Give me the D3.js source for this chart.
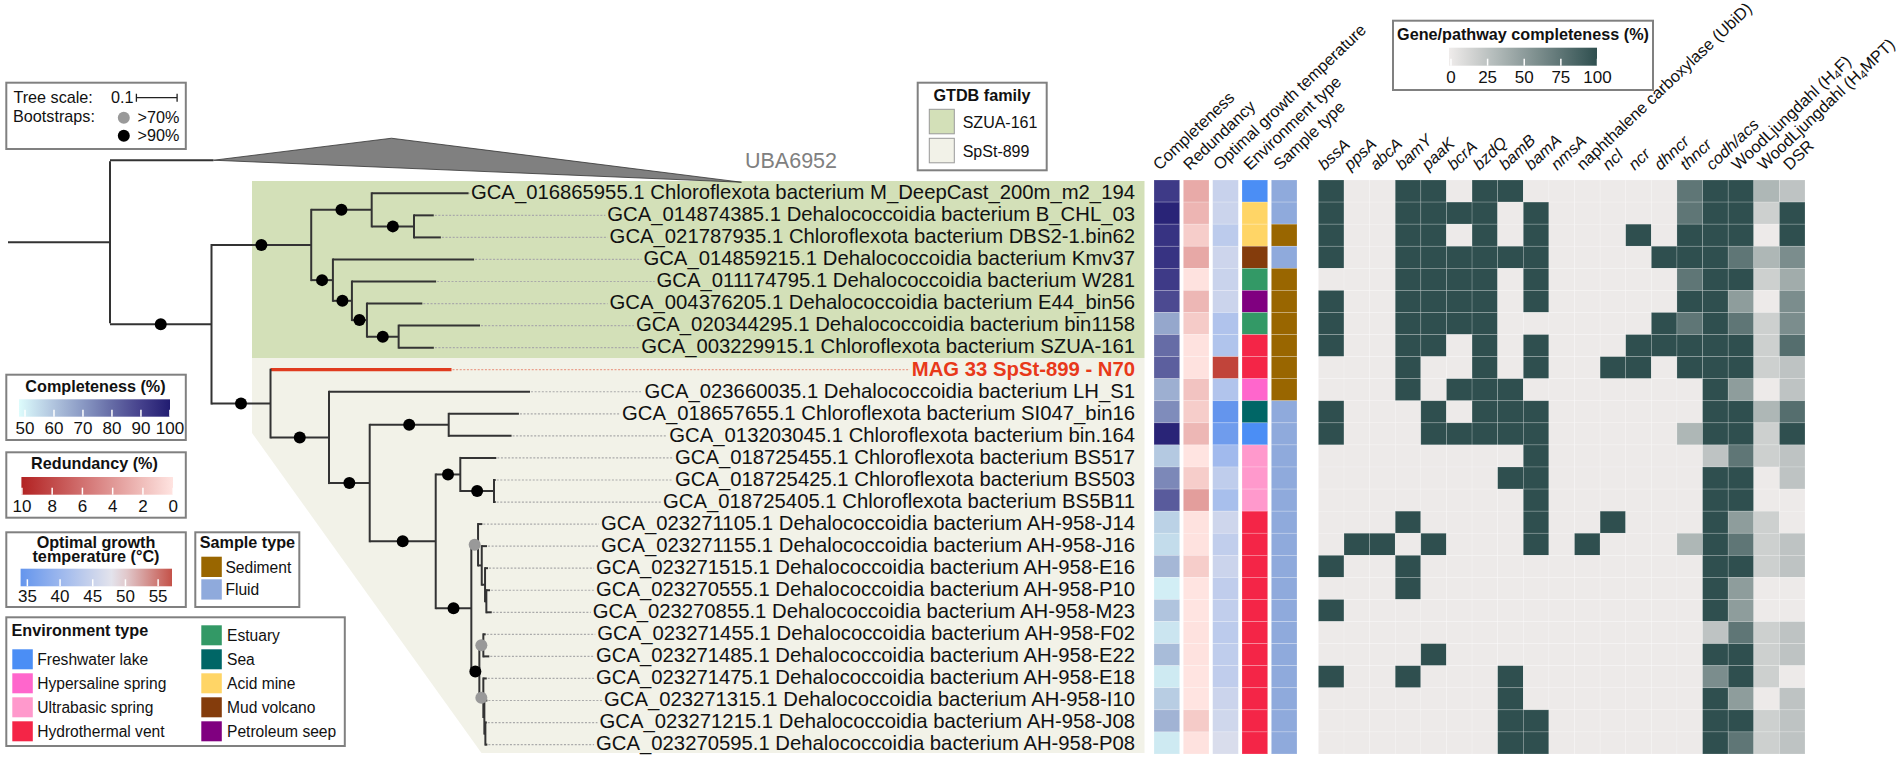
<!DOCTYPE html>
<html>
<head>
<meta charset="utf-8">
<script src="https://cdn.jsdelivr.net/npm/d3@7"></script>
<style>
    html, body { margin: 0; padding: 0; background: #fff; overflow: hidden; }
    svg { display: block; }
    text { font-family: "Liberation Sans", Arial, sans-serif; fill: #111; }
</style>
</head>
<body>
<div id="chart"></div>
<script>
// tips, top to bottom
const tipLabels = [
    "GCA_016865955.1 Chloroflexota bacterium M_DeepCast_200m_m2_194",
    "GCA_014874385.1 Dehalococcoidia bacterium B_CHL_03",
    "GCA_021787935.1 Chloroflexota bacterium DBS2-1.bin62",
    "GCA_014859215.1 Dehalococcoidia bacterium Kmv37",
    "GCA_011174795.1 Dehalococcoidia bacterium W281",
    "GCA_004376205.1 Dehalococcoidia bacterium E44_bin56",
    "GCA_020344295.1 Dehalococcoidia bacterium bin1158",
    "GCA_003229915.1 Chloroflexota bacterium SZUA-161",
    "MAG 33 SpSt-899 - N70",
    "GCA_023660035.1 Dehalococcoidia bacterium LH_S1",
    "GCA_018657655.1 Chloroflexota bacterium SI047_bin16",
    "GCA_013203045.1 Chloroflexota bacterium bin.164",
    "GCA_018725455.1 Chloroflexota bacterium BS517",
    "GCA_018725425.1 Chloroflexota bacterium BS503",
    "GCA_018725405.1 Chloroflexota bacterium BS5B11",
    "GCA_023271105.1 Dehalococcoidia bacterium AH-958-J14",
    "GCA_023271155.1 Dehalococcoidia bacterium AH-958-J16",
    "GCA_023271515.1 Dehalococcoidia bacterium AH-958-E16",
    "GCA_023270555.1 Dehalococcoidia bacterium AH-958-P10",
    "GCA_023270855.1 Dehalococcoidia bacterium AH-958-M23",
    "GCA_023271455.1 Dehalococcoidia bacterium AH-958-F02",
    "GCA_023271485.1 Dehalococcoidia bacterium AH-958-E22",
    "GCA_023271475.1 Dehalococcoidia bacterium AH-958-E18",
    "GCA_023271315.1 Dehalococcoidia bacterium AH-958-I10",
    "GCA_023271215.1 Dehalococcoidia bacterium AH-958-J08",
    "GCA_023270595.1 Dehalococcoidia bacterium AH-958-P08"
];
const tipIds = tipLabels.map((d, i) => "t" + (i + 1));

// [id, parent, branch length, bootstrap]
const treeEdges = [
    ["root", null, 0.2506, 0], ["N2", "root", 0.2494, 90], ["UBA6952", "root", 0.2543, 0],
    ["G", "N2", 0.245, 90], ["B", "N2", 0.145, 90],
    ["G1", "G", 0.1486, 90], ["t1", "G1", 0.2381, 0], ["G1a", "G1", 0.1039, 90],
    ["t2", "G1a", 0.0486, 0], ["t3", "G1a", 0.0661, 0],
    ["G2", "G", 0.0533, 90], ["t4", "G2", 0.3469, 0], ["G3", "G2", 0.0467, 90],
    ["t5", "G3", 0.2069, 0], ["G4", "G3", 0.0369, 90], ["t6", "G4", 0.1361, 0],
    ["G5", "G4", 0.0779, 90], ["t7", "G5", 0.2, 0], ["t8", "G5", 0.0865, 0],
    ["t9", "B", 0.4447, 0], ["B1", "B", 0.1437, 90], ["t10", "B1", 0.4939, 0],
    ["B2", "B1", 0.1, 90], ["B3", "B2", 0.1941, 90], ["t11", "B3", 0.1725, 0], ["t12", "B3", 0.1545, 0],
    ["B4", "B2", 0.1622, 90], ["B5", "B4", 0.0604, 90], ["t13", "B5", 0.0885, 0],
    ["B6", "B5", 0.0828, 90], ["t14", "B6", 0.0042, 0], ["t15", "B6", 0.0042, 0],
    ["B7", "B4", 0.0875, 90], ["B8", "B7", 0.0165, 70], ["t16", "B8", 0.0106, 0],
    ["B8a", "B8", 0.0091, 0], ["t17", "B8a", 0.013, 0], ["B8b", "B8a", 0.0081, 0],
    ["t18", "B8b", 0.0074, 0], ["B8c", "B8b", 0.0032, 0], ["t19", "B8c", 0.0091, 0], ["t20", "B8c", 0.0133, 0],
    ["B9", "B7", 0.0197, 90], ["B10", "B9", 0.0098, 70], ["t21", "B10", 0.0059, 0], ["t22", "B10", 0.0147, 0],
    ["B11", "B9", 0.0098, 70], ["t23", "B11", 0.0084, 0], ["B12", "B11", 0.0025, 0],
    ["t24", "B12", 0.0074, 0], ["B13", "B12", 0.0025, 0], ["t25", "B13", 0.0034, 0], ["t26", "B13", 0.0049, 0]
];
// collapsed clade: how deep its apex and far corner reach
const collapsedApexLen = 0.4373;
const collapsedTipLen = 1.2973;

const completeness = [92, 98, 94, 94, 92, 88, 67, 80, 83, 65, 73, 98, 59, 74, 84, 57, 55, 63, 51, 60, 53, 62, 52, 58, 64, 52];
const redundancy = [3, 2.4, 1.2, 3.1, 0.1, 2.3, 1.3, 0.1, 0.1, 1.7, 1.2, 2.3, 0, 1.2, 3.6, 0.1, 0.1, 1.2, 0, 0, 0.1, 0.1, 0, 0, 1.3, 0.1];
const growthTemp = [45, 45.3, 43.7, 45.5, 45.1, 45.3, 42.3, 42.4, 58, 42.5, 34, 35.2, 40.7, 44, 41.5, 45.6, 44.2, 45.3, 44.1, 44.2, 43.7, 44, 44.1, 45.3, 45.8, 46.8];
const environment = ["Freshwater lake", "Acid mine", "Acid mine", "Mud volcano", "Estuary", "Petroleum seep", "Estuary", "Hydrothermal vent",
    "Hydrothermal vent", "Hypersaline spring", "Sea", "Freshwater lake", "Ultrabasic spring", "Ultrabasic spring", "Ultrabasic spring",
    "Hydrothermal vent", "Hydrothermal vent", "Hydrothermal vent", "Hydrothermal vent", "Hydrothermal vent", "Hydrothermal vent",
    "Hydrothermal vent", "Hydrothermal vent", "Hydrothermal vent", "Hydrothermal vent", "Hydrothermal vent"];
const sampleType = ["Fluid", "Fluid", "Sediment", "Fluid", "Sediment", "Sediment", "Sediment", "Sediment", "Sediment", "Sediment",
    "Fluid", "Fluid", "Fluid", "Fluid", "Fluid", "Fluid", "Fluid", "Fluid", "Fluid", "Fluid", "Fluid", "Fluid", "Fluid", "Fluid", "Fluid", "Fluid"];

const metaColumns = ["Completeness", "Redundancy", "Optimal growth temperature", "Environment type", "Sample type"];
const geneColumns = ["bssA", "ppsA", "abcA", "bamY", "paaK", "bcrA", "bzdQ", "bamB", "bamA", "nmsA",
    "naphthalene carboxylase (UbiD)", "ncl", "ncr", "dhncr", "thncr", "codh/acs",
    "WoodLjungdahl (H4F)", "WoodLjungdahl (H4MPT)", "DSR"];
const uprightGenes = ["naphthalene carboxylase (UbiD)", "WoodLjungdahl (H4F)", "WoodLjungdahl (H4MPT)", "DSR"];

const geneMatrix = [
    [100, 0, 0, 100, 100, 0, 100, 100, 0, 0, 0, 0, 0, 0, 75, 100, 100, 33, 25],
    [100, 0, 0, 100, 100, 100, 100, 0, 100, 0, 0, 0, 0, 0, 75, 100, 100, 17, 100],
    [100, 0, 0, 100, 100, 0, 100, 0, 100, 0, 0, 0, 100, 0, 100, 100, 100, 0, 100],
    [100, 0, 0, 100, 100, 100, 100, 100, 100, 0, 0, 0, 0, 100, 100, 100, 75, 33, 60],
    [0, 0, 0, 100, 100, 100, 100, 0, 100, 0, 0, 0, 0, 0, 75, 100, 100, 17, 40],
    [100, 0, 0, 100, 100, 100, 100, 0, 100, 0, 0, 0, 0, 0, 100, 100, 50, 0, 60],
    [100, 0, 0, 100, 100, 100, 100, 0, 0, 0, 0, 0, 0, 100, 75, 100, 75, 17, 60],
    [100, 0, 0, 100, 100, 0, 100, 0, 100, 0, 0, 0, 100, 100, 100, 100, 100, 17, 80],
    [0, 0, 0, 100, 0, 0, 100, 0, 100, 0, 0, 100, 100, 0, 100, 100, 100, 17, 25],
    [0, 0, 0, 100, 0, 100, 100, 100, 0, 0, 0, 0, 0, 0, 0, 100, 50, 0, 25],
    [100, 0, 0, 0, 100, 0, 100, 100, 100, 0, 0, 0, 0, 0, 0, 100, 100, 33, 80],
    [100, 0, 0, 0, 100, 100, 100, 100, 100, 0, 0, 0, 0, 0, 33, 100, 100, 17, 100],
    [0, 0, 0, 0, 0, 0, 0, 0, 100, 0, 0, 0, 0, 0, 0, 25, 75, 17, 25],
    [0, 0, 0, 0, 0, 0, 0, 100, 100, 0, 0, 0, 0, 0, 0, 100, 100, 0, 25],
    [0, 0, 0, 0, 0, 0, 0, 0, 100, 0, 0, 0, 0, 0, 0, 100, 100, 0, 0],
    [0, 0, 0, 100, 0, 0, 0, 0, 100, 0, 0, 100, 0, 0, 0, 100, 50, 17, 0],
    [0, 100, 100, 0, 100, 0, 0, 0, 100, 0, 100, 0, 0, 0, 33, 100, 75, 17, 25],
    [100, 0, 0, 100, 0, 0, 0, 0, 0, 0, 0, 0, 0, 0, 0, 100, 100, 17, 25],
    [0, 0, 0, 100, 0, 0, 0, 0, 0, 0, 0, 0, 0, 0, 0, 100, 50, 0, 0],
    [100, 0, 0, 0, 0, 0, 0, 0, 0, 0, 0, 0, 0, 0, 0, 100, 50, 0, 0],
    [0, 0, 0, 0, 0, 0, 0, 0, 0, 0, 0, 0, 0, 0, 0, 25, 75, 17, 25],
    [0, 0, 0, 0, 100, 0, 0, 0, 0, 0, 0, 0, 0, 0, 0, 100, 100, 17, 25],
    [100, 0, 0, 100, 0, 0, 0, 100, 0, 0, 0, 0, 0, 0, 0, 60, 100, 17, 0],
    [0, 0, 0, 0, 0, 0, 0, 100, 0, 0, 0, 0, 0, 0, 0, 100, 50, 0, 25],
    [0, 0, 0, 0, 0, 0, 0, 100, 100, 0, 0, 0, 0, 0, 0, 100, 100, 17, 25],
    [0, 0, 0, 0, 0, 0, 0, 100, 100, 0, 0, 0, 0, 0, 0, 100, 75, 17, 25]
];

const environmentTypes = ["Freshwater lake", "Hypersaline spring", "Ultrabasic spring", "Hydrothermal vent", "Estuary", "Sea", "Acid mine", "Mud volcano", "Petroleum seep"];
const environmentColors = ["#4b8ef5", "#ff66cc", "#ff99cc", "#f42547", "#339966", "#006666", "#ffd566", "#843c0c", "#800080"];
const sampleTypes = ["Sediment", "Fluid"];
const sampleColors = ["#996600", "#8faadc"];
const familyNames = ["SZUA-161", "SpSt-899"];
const familyColors = ["#d3e0b8", "#f2f2e8"];

const width = 1902, height = 760;
const svg = d3.select("#chart").append("svg").attr("width", width).attr("height", height);

// ---- scales
const treeX = d3.scaleLinear().domain([0, 1]).range([8, 415]);
const leafY = d3.scaleLinear().domain([0, 25]).range([193.3, 744.6]);
const rowY = d3.scaleBand().domain(tipIds).range([180, 754]);
const metaX = d3.scaleBand().domain(metaColumns).range([1154, 1297]).paddingInner(0.125).paddingOuter(0);
const geneX = d3.scaleBand().domain(geneColumns).range([1318.4, 1805]);

const completenessColor = d3.scaleLinear().domain([50, 60, 70, 80, 90, 100])
    .range(["#d6f3f7", "#b0c4de", "#8a9ac4", "#666ca6", "#45418c", "#221d72"]);
const redundancyColor = d3.scaleLinear().domain([0, 10]).range(["#ffe4e1", "#b22222"]);
const tempColor = d3.scaleLinear().domain([34, 48.5, 58]).range(["#6495ed", "#e8e6ec", "#c1443a"]);
const environmentColor = d3.scaleOrdinal().domain(environmentTypes).range(environmentColors);
const sampleColor = d3.scaleOrdinal().domain(sampleTypes).range(sampleColors);
const geneColor = d3.scaleLinear().domain([0, 100]).range(["#edeae9", "#2f4f4f"]);

// ---- family backgrounds
const bg = svg.append("g");
bg.append("rect").attr("x", 252).attr("y", 181).attr("width", 892.5).attr("height", 177).attr("fill", familyColors[0]);
bg.append("path").attr("d", "M252,358H1144.5V753H481.5L252,433Z").attr("fill", familyColors[1]);

// ---- tree
const root = d3.stratify().id(d => d[0]).parentId(d => d[1])(treeEdges);
root.eachBefore(n => {
    n.len = n.data[2];
    n.support = n.data[3];
    n.depthLen = (n.parent ? n.parent.depthLen : 0) + n.len;
    n.px = treeX(n.depthLen);
    n.px0 = n.parent ? n.parent.px : treeX(0);
});
root.eachAfter(n => {
    if (n.id === "UBA6952") n.py = leafY(-1.5);
    else if (!n.children) n.py = leafY(tipIds.indexOf(n.id));
    else n.py = (n.children[0].py + n.children[n.children.length - 1].py) / 2;
});

const treeG = svg.append("g");
const collapsed = root.children.find(n => n.id === "UBA6952");
treeG.append("path")
    .attr("d", d3.line()([
        [collapsed.px, collapsed.py],
        [treeX(collapsed.depthLen + collapsedApexLen), collapsed.py - 22],
        [treeX(collapsed.depthLen + collapsedTipLen), collapsed.py + 22]
    ]) + "Z")
    .attr("fill", "#808080").attr("stroke", "#333").attr("stroke-width", 0.8);

const isMag = n => n.id === "t9";
const nodes = root.descendants();

treeG.selectAll(".stem").data(nodes).join("line")
    .attr("class", "stem")
    .attr("x1", d => d.px0).attr("x2", d => d.px)
    .attr("y1", d => d.py).attr("y2", d => d.py)
    .attr("stroke", d => isMag(d) ? "#e03c1f" : "#333")
    .attr("stroke-width", d => isMag(d) ? 3.2 : 2);

treeG.selectAll(".fork").data(nodes.filter(d => d.children)).join("line")
    .attr("class", "fork")
    .attr("x1", d => d.px).attr("x2", d => d.px)
    .attr("y1", d => d.children[0].py - 1).attr("y2", d => d.children[d.children.length - 1].py + 1)
    .attr("stroke", "#333").attr("stroke-width", 2);

// tip labels, all right aligned, with dotted leaders back to the tips
const labelRight = 1135;
const tips = root.leaves().filter(d => d.id !== "UBA6952");
const tipG = treeG.selectAll(".tip").data(tips).join("g").attr("class", "tip");
tipG.append("text")
    .attr("x", labelRight)
    .attr("y", d => d.py + 5.8)
    .attr("text-anchor", "end")
    .attr("font-size", 20.3)
    .attr("font-weight", d => isMag(d) ? "bold" : null)
    .style("fill", d => isMag(d) ? "#e8391a" : "#111")
    .text(d => tipLabels[tipIds.indexOf(d.id)]);
tipG.insert("line", "text")
    .attr("x1", d => d.px + 1)
    .attr("x2", function () { return labelRight - this.parentNode.querySelector("text").getComputedTextLength() - 2; })
    .attr("y1", d => d.py).attr("y2", d => d.py)
    .attr("stroke", d => isMag(d) ? "#eaa08c" : "#aaa")
    .attr("stroke-width", 1.2)
    .attr("stroke-dasharray", "2,1.6");

treeG.selectAll(".boot").data(nodes.filter(d => d.support > 0)).join("circle")
    .attr("class", "boot")
    .attr("cx", d => (d.px0 + d.px) / 2)
    .attr("cy", d => d.py)
    .attr("r", 6)
    .attr("fill", d => d.support >= 90 ? "#000" : "#999");

svg.append("text").attr("x", 745).attr("y", 168).attr("font-size", 21.5).style("fill", "#808080").text("UBA6952");

// ---- metadata strips
const metaValues = [completeness, redundancy, growthTemp, environment, sampleType];
const metaColors = [completenessColor, redundancyColor, tempColor, environmentColor, sampleColor];
const metaCells = [];
metaColumns.forEach((col, c) => tipIds.forEach((id, r) => {
    metaCells.push({ col, id, fill: metaColors[c](metaValues[c][r]) });
}));
const lineColor = "rgba(255,255,255,0.35)";
svg.append("g").selectAll("rect").data(metaCells).join("rect")
    .attr("x", d => metaX(d.col)).attr("y", d => rowY(d.id))
    .attr("width", metaX.bandwidth()).attr("height", rowY.bandwidth())
    .attr("fill", d => d.fill)
    .attr("stroke", lineColor).attr("stroke-width", 0.6);

// ---- gene heatmap
const geneCells = [];
geneMatrix.forEach((row, r) => row.forEach((v, c) => {
    geneCells.push({ col: geneColumns[c], id: tipIds[r], v });
}));
svg.append("g").selectAll("rect").data(geneCells).join("rect")
    .attr("x", d => geneX(d.col)).attr("y", d => rowY(d.id))
    .attr("width", geneX.bandwidth()).attr("height", rowY.bandwidth())
    .attr("fill", d => geneColor(d.v))
    .attr("stroke", "#fff").attr("stroke-opacity", 0.3).attr("stroke-width", 0.6);

// ---- rotated column headers
const headerAngle = -43.5;
const headerFont = 16.4;
const headerY = 171;
const metaHeaderX = d3.scaleLinear().domain([0, 4]).range([1159.5, 1280]);
const geneHeaderX = d3.scaleLinear().domain([0, 18]).range([1324.5, 1789.8]);

function addHeader(label, x, italic) {
    const t = svg.append("text")
        .attr("transform", `translate(${x},${headerY}) rotate(${headerAngle})`)
        .attr("font-size", headerFont)
        .attr("font-style", italic ? "italic" : null);
    const m = label.match(/^(.*\(H)4(.*)$/);
    if (m) {
        t.append("tspan").text(m[1]);
        t.append("tspan").attr("font-size", 11.5).attr("dy", 2.5).text("4");
        t.append("tspan").attr("dy", -2.5).text(m[2]);
    } else {
        t.text(label);
    }
}
metaColumns.forEach((d, i) => addHeader(d, metaHeaderX(i), false));
geneColumns.forEach((d, i) => addHeader(d, geneHeaderX(i), !uprightGenes.includes(d)));

// ---- legends
function legendBox(x, y, w, h) {
    const g = svg.append("g");
    g.append("rect").attr("x", x).attr("y", y).attr("width", w).attr("height", h)
        .attr("fill", "#fff").attr("stroke", "#808080").attr("stroke-width", 2);
    return g;
}

let gradientCount = 0;
function colorBar(g, opts) {
    // opts.scale is value -> px, opts.color is value -> colour
    const id = "grad" + (gradientCount++);
    const [d0, d1] = opts.scale.domain();
    const grad = svg.append("defs").append("linearGradient").attr("id", id);
    d3.range(0, 1.0001, 0.1).forEach(t => {
        grad.append("stop").attr("offset", t).attr("stop-color", opts.color(d0 + (d1 - d0) * t));
    });
    const [x0, x1] = opts.scale.range();
    g.append("rect").attr("x", x0).attr("y", opts.y).attr("width", x1 - x0).attr("height", opts.h)
        .attr("fill", `url(#${id})`);
    const axis = d3.axisBottom(opts.scale).tickValues(opts.ticks).tickSize(7).tickFormat(d3.format("d"));
    const ag = g.append("g")
        .attr("transform", `translate(0,${opts.y + opts.h - 7})`)
        .call(axis);
    ag.select(".domain").remove();
    ag.selectAll("line").attr("stroke", "#fff").attr("stroke-width", 1.5);
    ag.selectAll("text")
        .attr("y", opts.labelY - (opts.y + opts.h - 7))
        .attr("dy", 0)
        .attr("font-size", 17)
        .attr("font-family", '"Liberation Sans", Arial, sans-serif')
        .style("fill", "#111");
}

function boldTitle(g, label, x, y, anchor) {
    g.append("text").attr("x", x).attr("y", y).attr("text-anchor", anchor || "middle")
        .attr("font-size", 16.2).attr("font-weight", "bold").text(label);
}

function swatches(g, items, colors, x, ys, textX, size) {
    items.forEach((d, i) => {
        g.append("rect").attr("x", x).attr("y", ys(i)).attr("width", size[0]).attr("height", size[1])
            .attr("fill", colors[i]);
        g.append("text").attr("x", textX).attr("y", ys(i) + size[1] - 4.5).attr("font-size", 15.6).text(d);
    });
}

// tree scale box
const scaleG = legendBox(6.3, 82.7, 179.5, 66.3);
scaleG.append("text").attr("x", 13.4).attr("y", 103).attr("font-size", 16.2).text("Tree scale:");
scaleG.append("text").attr("x", 111).attr("y", 103).attr("font-size", 16.2).text("0.1");
scaleG.append("text").attr("x", 13).attr("y", 122).attr("font-size", 16.2).text("Bootstraps:");
const barY = 97.7;
scaleG.append("path")
    .attr("d", `M${treeX(0) + 128.4},${barY - 4}v8M${treeX(0) + 128.4},${barY}H${treeX(0.1) + 128.4}M${treeX(0.1) + 128.4},${barY - 4}v8`)
    .attr("stroke", "#222").attr("stroke-width", 1.3).attr("fill", "none");
scaleG.append("circle").attr("cx", 123.8).attr("cy", 117.7).attr("r", 6).attr("fill", "#999");
scaleG.append("circle").attr("cx", 123.8).attr("cy", 135.7).attr("r", 6).attr("fill", "#000");
scaleG.append("text").attr("x", 137.6).attr("y", 123).attr("font-size", 16.2).text(">70%");
scaleG.append("text").attr("x", 137.6).attr("y", 141).attr("font-size", 16.2).text(">90%");

// completeness
const compG = legendBox(6.3, 374.7, 179.5, 65.3);
boldTitle(compG, "Completeness (%)", 95.5, 392);
colorBar(compG, {
    scale: d3.scaleLinear().domain([48.1, 100.2]).range([19, 170]),
    color: completenessColor, ticks: [50, 60, 70, 80, 90, 100], y: 399.3, h: 17.4, labelY: 434
});

// redundancy (reversed axis)
const redG = legendBox(6.3, 452.3, 179.5, 65.4);
boldTitle(redG, "Redundancy (%)", 94.5, 469);
colorBar(redG, {
    scale: d3.scaleLinear().domain([10, -0.02]).range([21.4, 173]),
    color: redundancyColor, ticks: [10, 8, 6, 4, 2, 0], y: 477, h: 17.7, labelY: 512
});

// optimal growth temperature
const tempG = legendBox(6.3, 532.3, 179.5, 74.7);
boldTitle(tempG, "Optimal growth", 96, 547.7);
boldTitle(tempG, "temperature (°C)", 96, 562.3);
colorBar(tempG, {
    scale: d3.scaleLinear().domain([34.04, 57.2]).range([20.6, 172]),
    color: tempColor, ticks: [35, 40, 45, 50, 55], y: 568.7, h: 17.6, labelY: 602
});

// sample type
const sampleG = legendBox(195.3, 532.3, 104, 74.7);
boldTitle(sampleG, "Sample type", 199.7, 548.3, "start");
const sampleYs = d3.scaleLinear().domain([0, 1]).range([556.7, 579.3]);
swatches(sampleG, sampleTypes, sampleColors, 201.3, sampleYs, 225.4, [20.5, 20.3]);

// environment type
const envG = legendBox(6.3, 617.3, 338.5, 128.7);
boldTitle(envG, "Environment type", 11.5, 636, "start");
const envYs = d3.scaleLinear().domain([0, 3]).range([649.3, 721.3]);
swatches(envG, environmentTypes.slice(0, 4), environmentColors.slice(0, 4), 12.3, envYs, 37.2, [20.5, 20]);
const envYs2 = d3.scaleLinear().domain([0, 4]).range([625.3, 721.3]);
swatches(envG, environmentTypes.slice(4), environmentColors.slice(4), 201.3, envYs2, 227, [20.5, 20]);

// GTDB family
const famG = legendBox(917.7, 82.7, 129, 87.6);
boldTitle(famG, "GTDB family", 982, 101);
familyNames.forEach((d, i) => {
    const y = i === 0 ? 109.3 : 138.3;
    famG.append("rect").attr("x", 929.3).attr("y", y).attr("width", 25).attr("height", 24.5)
        .attr("fill", familyColors[i]).attr("stroke", "#999").attr("stroke-width", 1);
    famG.append("text").attr("x", 962.7).attr("y", y + 18.4).attr("font-size", 16).text(d);
});

// gene completeness
const geneG = legendBox(1393, 20.7, 260, 69.3);
boldTitle(geneG, "Gene/pathway completeness (%)", 1523, 40);
colorBar(geneG, {
    scale: d3.scaleLinear().domain([-1, 100]).range([1449, 1597]),
    color: geneColor, ticks: [0, 25, 50, 75, 100], y: 47.7, h: 18, labelY: 83
});
</script>
</body>
</html>
